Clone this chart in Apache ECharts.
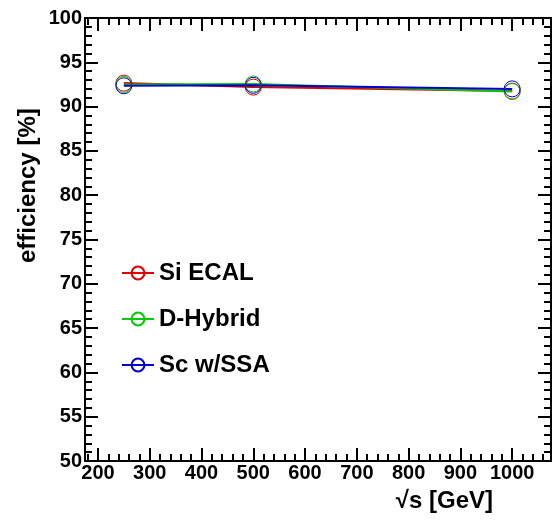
<!DOCTYPE html>
<html>
<head>
<meta charset="utf-8">
<script src="https://cdn.jsdelivr.net/npm/echarts@6/dist/echarts.min.js"></script>
<style>
  html, body { margin: 0; padding: 0; background: #fff; }
  #chart { width: 553px; height: 520px; }
</style>
</head>
<body>
<div id="chart"></div>
<script>
// Centre-of-mass energies (GeV)
const energies = [250, 500, 1000];
// Efficiency (%) per detector option
const siEcal = [92.65, 92.2, 91.75];
const dHybrid = [92.5, 92.55, 91.7];
const scSsa = [92.35, 92.4, 92.0];

const seriesNames = ['Si ECAL', 'D-Hybrid', 'Sc w/SSA'];
const seriesColors = ['#e00000', '#00cc00', '#0000d0'];
const seriesValues = [siEcal, dHybrid, scSsa];

// Energy axis tick positions
const xMajorTicks = [200, 300, 400, 500, 600, 700, 800, 900, 1000];
const xMinorTicks = [];
for (let v = 180; v <= 1070; v += 20) {
  if (v % 100 !== 0) xMinorTicks.push(v);
}

const FONT = 'Liberation Sans, Arial, Helvetica, sans-serif';
const chart = echarts.init(document.getElementById('chart'));

const labelStyle = { fontFamily: FONT, fontWeight: 'bold', fontSize: 20, color: '#000' };
const frameLine = { show: true, lineStyle: { color: '#000', width: 2 } };
const tickLine = { color: '#000', width: 2 };

function xAxisDef(pos, values, len, withLine, withLabels) {
  return {
    type: 'value', position: pos, min: 175, max: 1075,
    axisLine: withLine ? frameLine : { show: false },
    axisTick: { show: true, inside: true, length: len, customValues: values, lineStyle: tickLine },
    axisLabel: Object.assign({
      show: withLabels, margin: 2, customValues: values,
      formatter: v => String(v)
    }, labelStyle),
    splitLine: { show: false }
  };
}
function yAxisDef(pos, withLabels) {
  return {
    type: 'value', position: pos, min: 50, max: 100, interval: 5,
    axisLine: frameLine,
    axisTick: { show: true, inside: true, length: 13, lineStyle: tickLine },
    minorTick: { show: true, splitNumber: 5, length: 7, lineStyle: tickLine },
    axisLabel: Object.assign({ show: withLabels, margin: 3 }, labelStyle),
    splitLine: { show: false }
  };
}

chart.setOption({
  animation: false,
  backgroundColor: '#fff',
  grid: { left: 85, top: 18, right: 2, bottom: 59 },
  xAxis: [
    xAxisDef('bottom', xMajorTicks, 13, true, true),
    xAxisDef('bottom', xMinorTicks, 7, false, false),
    xAxisDef('top', xMajorTicks, 13, true, false),
    xAxisDef('top', xMinorTicks, 7, false, false)
  ],
  yAxis: [yAxisDef('left', true), yAxisDef('right', false)],
  legend: {
    orient: 'vertical', left: 116, top: 256, itemWidth: 32, itemHeight: 16, itemGap: 22,
    textStyle: { fontFamily: FONT, fontWeight: 'bold', fontSize: 24, color: '#000' },
    data: seriesNames
  },
  graphic: [
    {
      type: 'text', x: 40, y: 263, rotation: Math.PI / 2,
      style: { text: 'efficiency [%]', font: 'bold 24px ' + FONT, fill: '#000', align: 'left', verticalAlign: 'bottom' }
    },
    {
      type: 'text', x: 493, y: 501,
      style: { text: '\u221As [GeV]', font: 'bold 24px ' + FONT, fill: '#000', align: 'right', verticalAlign: 'middle' }
    }
  ],
  series: seriesNames.map((name, i) => ({
    name: name,
    type: 'line',
    data: energies.map((e, j) => [e, seriesValues[i][j]]),
    symbol: 'circle',
    symbolSize: 16,
    lineStyle: { color: seriesColors[i], width: 2 },
    itemStyle: { color: 'rgba(0,0,0,0)', borderColor: seriesColors[i], borderWidth: 1 }
  }))
});
</script>
</body>
</html>
